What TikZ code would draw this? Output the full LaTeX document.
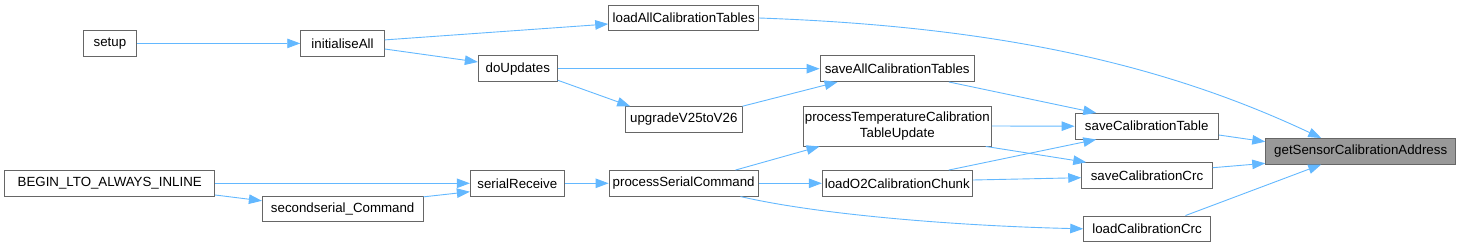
\documentclass[tikz,border=0pt]{standalone}
\usepackage{fontspec}
\setmainfont{Liberation Sans}
\usetikzlibrary{arrows.meta}
\definecolor{edgeblue}{HTML}{63B8FF}
\definecolor{boxgray}{HTML}{666666}
\definecolor{focusfill}{HTML}{999999}
\begin{document}
\begin{tikzpicture}[x=1pt,y=-1pt,
  box/.style={draw=boxgray, fill=white, line width=0.9pt, minimum height=25.6pt, inner sep=0pt,
    font=\fontsize{13.3}{15.5}\selectfont, text=black, align=center},
  call/.style={draw=edgeblue, line width=0.9pt, -{Triangle[length=13pt,width=9.5pt]}}]
\useasboundingbox (0,0) rectangle (1461,247);
% nodes
\node[box, minimum width=53.7pt] (setup) at (109.9,43.4) {setup};
\node[box, minimum width=83.6pt] (init) at (342.5,43.4) {initialiseAll};
\node[box, minimum width=79pt] (doup) at (517.8,68.7) {doUpdates};
\node[box, minimum width=210pt] (begin) at (109.7,183.3) {BEGIN\_LTO\_ALWAYS\_INLINE};
\node[box, minimum width=160.7pt] (second) at (342.7,208.8) {secondserial\_Command};
\node[box, minimum width=94pt] (serrec) at (517.3,183.3) {serialReceive};
\node[box, minimum width=150pt] (loadall) at (683.7,18) {loadAllCalibrationTables};
\node[box, minimum width=154.3pt] (saveall) at (897.2,68.7) {saveAllCalibrationTables};
\node[box, minimum width=116.3pt] (upg) at (683.8,119.5) {upgradeV25toV26};
\node[box, minimum width=188pt, minimum height=40pt] (proctemp) at (897.3,126) {processTemperatureCalibration\\TableUpdate};
\node[box, minimum width=149.3pt] (procser) at (683.7,183.3) {processSerialCommand};
\node[box, minimum width=150pt] (loado2) at (897.3,183.3) {loadO2CalibrationChunk};
\node[box, minimum width=143.3pt] (savetab) at (1146.7,126.2) {saveCalibrationTable};
\node[box, minimum width=190pt, fill=focusfill] (getsens) at (1360.7,151.3) {getSensorCalibrationAddress};
\node[box, minimum width=130.6pt] (savecrc) at (1147,175.5) {saveCalibrationCrc};
\node[box, minimum width=126.6pt] (loadcrc) at (1147,228.8) {loadCalibrationCrc};
% edges
\draw[call] (setup) -- (init);
\draw[call] ([yshift=3.5pt]init.east) -- ([yshift=-6pt]loadall.west);
\draw[call] ([yshift=-5.6pt]init.east) -- ([yshift=6.7pt]doup.west);
\draw[call] (doup) -- (saveall);
\draw[call] ([yshift=1.7pt]doup.south east) -- ([xshift=5pt]upg.north west);
\draw[call] (upg.north east) -- ([xshift=18pt]saveall.south west);
\draw[call] (loadall.east) .. controls (1008.7,26.8) and (1171.7,67.8) .. ([xshift=56pt]getsens.north west);
\draw[call] ([xshift=-26pt]saveall.south east) -- ([xshift=21.7pt]savetab.north west);
\draw[call] (proctemp.east) -- (savetab.west);
\draw[call] ([xshift=-6pt]proctemp.south east) -- ([xshift=5pt]savecrc.north west);
\draw[call] ([xshift=-24pt]loado2.north east) -- ([xshift=21.7pt]savetab.south west);
\draw[call] ([yshift=3.3pt]loado2.east) -- ([yshift=-2.2pt]savecrc.west);
\draw[call] ([yshift=-8.8pt]savetab.east) -- ([yshift=9.6pt]getsens.west);
\draw[call] ([yshift=7.8pt]savecrc.east) -- ([yshift=-12pt]getsens.west);
\draw[call] ([xshift=-25.3pt]loadcrc.north east) -- ([xshift=56pt]getsens.south west);
\draw[call] ([xshift=-23.3pt]procser.north east) -- ([xshift=16.7pt]proctemp.south west);
\draw[call] (procser) -- (loado2);
\draw[call] ([xshift=-18.3pt]procser.south east) .. controls (820,215) and (960,226) .. (loadcrc.west);
\draw[call] (serrec) -- (procser);
\draw[call] (begin) -- (serrec);
\draw[call] ([yshift=-11.7pt]begin.east) -- ([yshift=8pt]second.west);
\draw[call] ([yshift=-1.3pt]second.north east) -- ([yshift=-8.4pt]serrec.west);
\end{tikzpicture}
\end{document}
